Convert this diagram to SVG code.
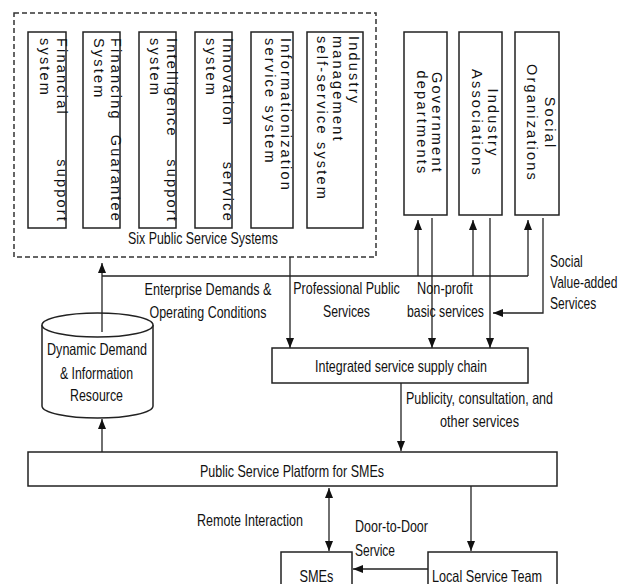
<svg xmlns="http://www.w3.org/2000/svg" width="624" height="584" viewBox="0 0 624 584">
<defs>
<style>
.b{fill:#fff;stroke:#222;stroke-width:1.5}
.t{font-family:"Liberation Sans Narrow","Arial Narrow","Liberation Sans",Arial,sans-serif;font-size:16.5px;fill:#111}
.v{font-family:"Liberation Sans",Arial,sans-serif;font-size:14.5px;letter-spacing:2.2px;fill:#111}
.c{stroke:#222;stroke-width:1.3;fill:none}
.a{marker-end:url(#ah)}
</style>
<marker id="ah" viewBox="0 0 10 8" refX="10" refY="4" markerWidth="10" markerHeight="8" markerUnits="userSpaceOnUse" orient="auto-start-reverse">
<path d="M0,0 L10,4 L0,8 z" fill="#111"/>
</marker>
</defs>
<rect width="624" height="584" fill="#fff"/>

<g id="six-systems">
<rect x="14" y="13" width="362" height="244" fill="none" stroke="#333" stroke-width="1.5" stroke-dasharray="5,3"/>
<text class="t" x="203" y="244" text-anchor="middle" textLength="150" lengthAdjust="spacingAndGlyphs">Six Public Service Systems</text>
</g>

<g id="financial-support">
<rect class="b" x="28" y="32" width="38" height="196"/>
<text class="v" transform="translate(56.5,0) rotate(90)" x="38">Financial</text>
<text class="v" transform="translate(56.5,0) rotate(90)" x="223" text-anchor="end">support</text>
<text class="v" transform="translate(40,0) rotate(90)" x="38">system</text>
</g>

<g id="financing-guarantee">
<rect class="b" x="83" y="32" width="37" height="196"/>
<text class="v" transform="translate(110.5,0) rotate(90)" x="38">Financing</text>
<text class="v" transform="translate(110.5,0) rotate(90)" x="223" text-anchor="end">Guarantee</text>
<text class="v" transform="translate(94,0) rotate(90)" x="38">System</text>
</g>

<g id="intelligence-support">
<rect class="b" x="139" y="32" width="37" height="196"/>
<text class="v" transform="translate(166.5,0) rotate(90)" x="38">Intelligence</text>
<text class="v" transform="translate(166.5,0) rotate(90)" x="223" text-anchor="end">support</text>
<text class="v" transform="translate(150,0) rotate(90)" x="38">system</text>
</g>

<g id="innovation-service">
<rect class="b" x="195" y="32" width="37" height="196"/>
<text class="v" transform="translate(222.5,0) rotate(90)" x="38">Innovation</text>
<text class="v" transform="translate(222.5,0) rotate(90)" x="223" text-anchor="end">service</text>
<text class="v" transform="translate(206,0) rotate(90)" x="38">system</text>
</g>

<g id="informationization">
<rect class="b" x="251" y="32" width="42" height="196"/>
<text class="v" transform="translate(281,0) rotate(90)" x="38">Informationization</text>
<text class="v" transform="translate(264.5,0) rotate(90)" x="38">service system</text>
</g>

<g id="industry-management">
<rect class="b" x="307" y="32" width="56" height="196"/>
<text class="v" transform="translate(349,0) rotate(90)" x="36">Industry</text>
<text class="v" transform="translate(333,0) rotate(90)" x="36">management</text>
<text class="v" transform="translate(317,0) rotate(90)" x="36">self-service system</text>
</g>

<g id="government">
<rect class="b" x="404" y="32" width="43" height="183"/>
<text class="v" transform="translate(432,0) rotate(90)" x="123" text-anchor="middle">Government</text>
<text class="v" transform="translate(416.5,0) rotate(90)" x="123" text-anchor="middle">departments</text>
</g>

<g id="industry-associations">
<rect class="b" x="459" y="32" width="43" height="183"/>
<text class="v" transform="translate(488,0) rotate(90)" x="123" text-anchor="middle">Industry</text>
<text class="v" transform="translate(472,0) rotate(90)" x="123" text-anchor="middle">Associations</text>
</g>

<g id="social-organizations">
<rect class="b" x="515" y="32" width="44" height="183"/>
<text class="v" transform="translate(545,0) rotate(90)" x="123" text-anchor="middle">Social</text>
<text class="v" transform="translate(527,0) rotate(90)" x="123" text-anchor="middle">Organizations</text>
</g>

<g id="dynamic-resource">
<path class="b" d="M42,325 L42,406 A55.5,12 0 0 0 153,406 L153,325"/>
<ellipse class="b" cx="97.5" cy="325" rx="55.5" ry="12"/>
<text class="t" x="97" y="355" text-anchor="middle" textLength="100" lengthAdjust="spacingAndGlyphs">Dynamic Demand</text>
<text class="t" x="96.5" y="379" text-anchor="middle" textLength="73" lengthAdjust="spacingAndGlyphs">&amp; Information</text>
<text class="t" x="96.5" y="401" text-anchor="middle" textLength="53" lengthAdjust="spacingAndGlyphs">Resource</text>
</g>

<g id="integrated-chain">
<rect class="b" x="272" y="348" width="256" height="35"/>
<text class="t" x="401" y="372" text-anchor="middle" textLength="172" lengthAdjust="spacingAndGlyphs">Integrated service supply chain</text>
</g>

<g id="platform">
<rect class="b" x="28" y="452" width="529" height="34"/>
<text class="t" x="292" y="477" text-anchor="middle" textLength="184" lengthAdjust="spacingAndGlyphs">Public Service Platform for SMEs</text>
</g>

<g id="smes">
<rect class="b" x="281" y="552" width="71" height="40"/>
<text class="t" x="316.5" y="582" text-anchor="middle" textLength="34" lengthAdjust="spacingAndGlyphs">SMEs</text>
</g>

<g id="local-team">
<rect class="b" x="428" y="552" width="129" height="40"/>
<text class="t" x="432" y="582" textLength="110" lengthAdjust="spacingAndGlyphs">Local Service Team</text>
</g>

<g id="connectors">
<line class="c a" x1="102" y1="332" x2="102" y2="263"/>
<line class="c" x1="102" y1="276" x2="528" y2="276"/>
<line class="c a" x1="418" y1="276" x2="418" y2="220"/>
<line class="c a" x1="473" y1="276" x2="473" y2="220"/>
<line class="c a" x1="528" y1="276" x2="528" y2="220"/>
<line class="c a" x1="432" y1="218" x2="432" y2="348"/>
<line class="c a" x1="490" y1="218" x2="490" y2="348"/>
<polyline class="c a" points="543,218 543,313 493,313"/>
<line class="c a" x1="290" y1="257" x2="290" y2="348"/>
<line class="c a" x1="401" y1="383" x2="401" y2="451"/>
<line class="c a" x1="102" y1="452" x2="102" y2="419"/>
<line class="c a" x1="329" y1="488" x2="329" y2="551" marker-start="url(#ah)"/>
<line class="c a" x1="471" y1="486" x2="471" y2="551"/>
<line class="c a" x1="428" y1="569" x2="353" y2="569"/>
</g>

<g id="labels">
<text class="t" transform="translate(208,295) scale(0.765,1)" text-anchor="middle">Enterprise Demands &amp;</text>
<text class="t" x="208" y="318" text-anchor="middle" textLength="117" lengthAdjust="spacingAndGlyphs">Operating Conditions</text>
<text class="t" transform="translate(346.5,294) scale(0.76,1)" text-anchor="middle">Professional Public</text>
<text class="t" x="346.5" y="317" text-anchor="middle" textLength="47" lengthAdjust="spacingAndGlyphs">Services</text>
<text class="t" transform="translate(445,294) scale(0.77,1)" text-anchor="middle">Non-profit</text>
<text class="t" x="445.5" y="317" text-anchor="middle" textLength="77" lengthAdjust="spacingAndGlyphs">basic services</text>
<g transform="translate(550,0) scale(0.73,1)">
<text class="t" x="0" y="267">Social</text>
<text class="t" x="0" y="288">Value-added</text>
<text class="t" x="0" y="309">Services</text>
</g>
<text class="t" x="479.5" y="404" text-anchor="middle" textLength="147" lengthAdjust="spacingAndGlyphs">Publicity, consultation, and</text>
<text class="t" x="479.5" y="427" text-anchor="middle" textLength="79" lengthAdjust="spacingAndGlyphs">other services</text>
<text class="t" x="250" y="526" text-anchor="middle" textLength="106" lengthAdjust="spacingAndGlyphs">Remote Interaction</text>
<text class="t" x="355" y="532" textLength="73" lengthAdjust="spacingAndGlyphs">Door-to-Door</text>
<text class="t" x="355" y="556" textLength="40" lengthAdjust="spacingAndGlyphs">Service</text>
</g>
</svg>
